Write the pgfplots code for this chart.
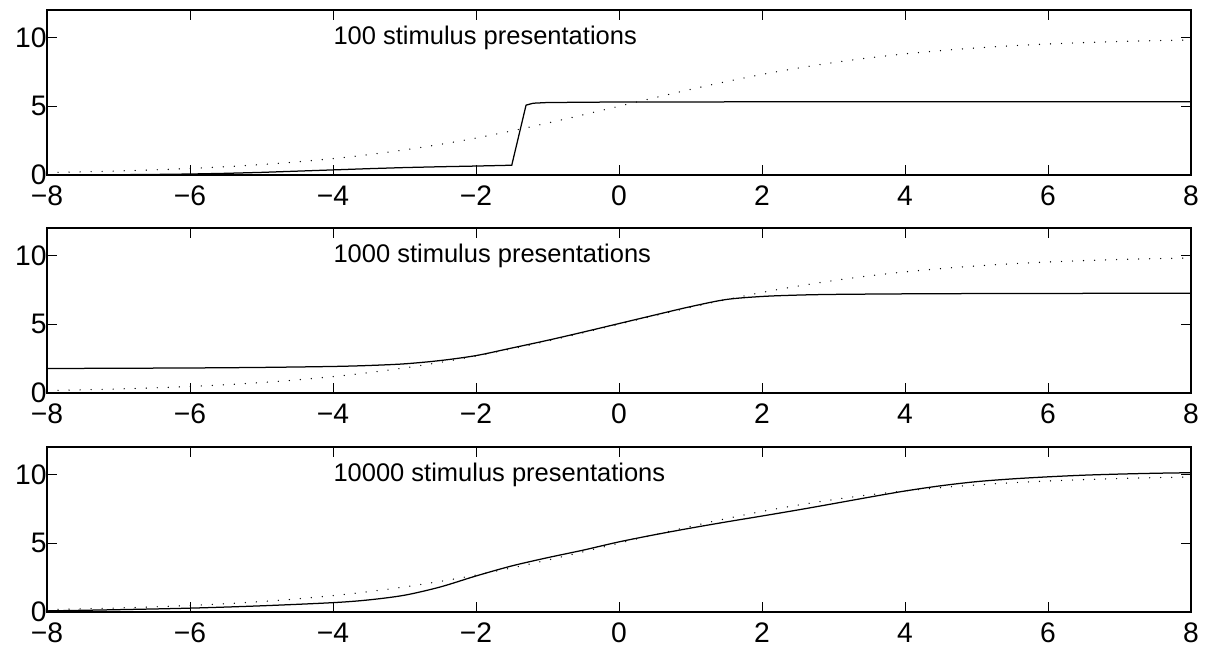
\documentclass[border=0pt]{standalone}
\usepackage{fontspec}
\setmainfont{Liberation Sans}
\usepackage{pgfplots}
\pgfplotsset{compat=1.18}
\pgfplotsset{
  panel/.style={
    scale only axis, width=457.6pt, height=66pt, anchor=south west,
    xmin=-8, xmax=8, ymin=0, ymax=12,
    xtick={-8,-6,...,8},
    xticklabels={−8,−6,−4,−2,0,2,4,6,8},
    ytick={0,5,10},
    tick align=inside, major tick length=4pt,
    axis line style={line width=0.5pt},
    every tick/.style={line width=0.4pt, black},
    /pgf/number format/assume math mode=true,
    tick label style={font=\fontsize{11.3}{13}\selectfont},
    yticklabel style={inner sep=0pt, xshift=0pt},
    xticklabel style={inner sep=4.2pt},
    clip=true,
  },
  dotcurve/.style={black, line width=0.55pt, dash pattern=on 0.01pt off 4.4pt, line cap=round},
  solidcurve/.style={black, line width=0.5pt},
}
\begin{document}
\begin{tikzpicture}
\path[use as bounding box] (0,0) rectangle (483.2pt,259.2pt);
\pgfplotstableread{
x y
-8 0.180
-7.5 0.230
-7 0.293
-6.5 0.373
-6 0.474
-5.5 0.601
-5 0.759
-4.5 0.953
-4 1.192
-3.5 1.480
-3 1.824
-2.5 2.227
-2 2.689
-1.5 3.208
-1 3.775
-0.5 4.378
0 5.000
0.5 5.622
1 6.225
1.5 6.792
2 7.311
2.5 7.773
3 8.176
3.5 8.520
4 8.808
4.5 9.047
5 9.241
5.5 9.399
6 9.526
6.5 9.627
7 9.707
7.5 9.770
8 9.820
}\target
% top panel
\begin{axis}[panel, at={(18.8pt,189.2pt)}]
\addplot[dotcurve, smooth] table {\target};
\addplot[solidcurve] coordinates {
(-8,0.0) (-7.5,0.005) (-7,0.02) (-6.5,0.04) (-6,0.07) (-5.5,0.12) (-5,0.19)
(-4.5,0.28) (-4,0.37) (-3.5,0.46) (-3,0.54) (-2.5,0.60) (-2,0.65) (-1.5,0.71)
(-1.3,5.08) (-1.2,5.22) (-1.0,5.27) (0,5.31) (2,5.32) (8,5.33)};
\node[anchor=west, inner sep=0pt, font=\fontsize{10.2}{12}\selectfont] at (axis cs:-4,10) {100 stimulus presentations};
\end{axis}
% middle panel
\begin{axis}[panel, at={(18.8pt,102pt)}]
\addplot[dotcurve, smooth] table {\target};
\addplot[solidcurve, smooth] coordinates {
(-8,1.78) (-7,1.80) (-6,1.82) (-5,1.86) (-4,1.93) (-3.5,2.00) (-3,2.12)
(-2.5,2.36) (-2,2.72) (-1.5,3.27) (-1,3.83) (-0.5,4.43) (0,5.05) (0.5,5.67)
(1,6.28) (1.5,6.80) (2,7.02) (2.5,7.12) (3,7.17) (4,7.21) (5,7.23) (6,7.24)
(7,7.25) (8,7.26)};
\node[anchor=west, inner sep=0pt, font=\fontsize{10.2}{12}\selectfont] at (axis cs:-4,10) {1000 stimulus presentations};
\end{axis}
% bottom panel
\begin{axis}[panel, at={(18.8pt,14.4pt)}]
\addplot[dotcurve, smooth] table {\target};
\addplot[solidcurve, smooth] coordinates {
(-8,0.08) (-7,0.17) (-6,0.28) (-5,0.45) (-4,0.68) (-3.5,0.88) (-3,1.22)
(-2.5,1.82) (-2,2.62) (-1.5,3.35) (-1,3.95) (-0.5,4.50) (0,5.10) (0.5,5.62)
(1,6.10) (1.5,6.55) (2,6.98) (2.5,7.42) (3,7.88) (3.5,8.35) (4,8.80)
(4.5,9.18) (5,9.48) (5.5,9.68) (6,9.83) (6.5,9.95) (7,10.03) (7.5,10.09) (8,10.13)};
\node[anchor=west, inner sep=0pt, font=\fontsize{10.2}{12}\selectfont] at (axis cs:-4,10) {10000 stimulus presentations};
\end{axis}
\end{tikzpicture}
\end{document}
